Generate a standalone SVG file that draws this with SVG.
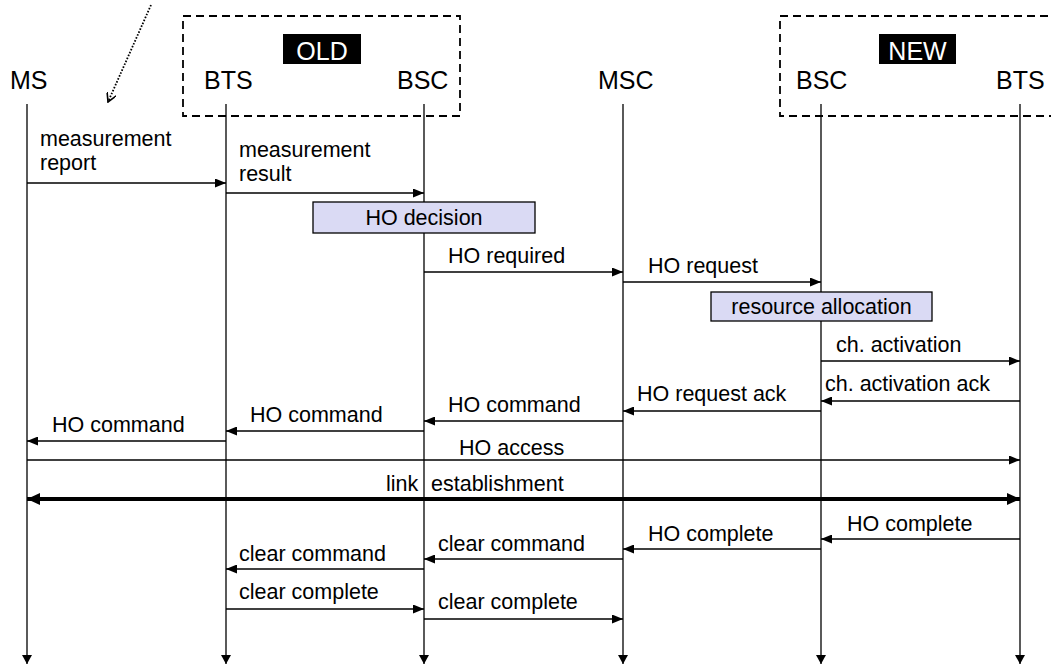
<svg xmlns="http://www.w3.org/2000/svg" width="1051" height="664" viewBox="0 0 1051 664">
  <style>
    .hdr { font-family: "Liberation Sans", Arial, sans-serif; font-size: 25px; fill: #000; }
    .tag { font-family: "Liberation Sans", Arial, sans-serif; font-size: 25px; fill: #fff; text-anchor: middle; }
    .lbl { font-family: "Liberation Sans", Arial, sans-serif; font-size: 21.5px; fill: #000; }
    .life { stroke: #000; stroke-width: 1.3; fill: none; marker-end: url(#down); }
    .msg { stroke: #000; stroke-width: 1.3; fill: none; marker-end: url(#ah); }
    .group { fill: none; stroke: #000; stroke-width: 1.8; stroke-dasharray: 8 5; }
    .proc { fill: #dadaf4; stroke: #000; stroke-width: 1.3; }
  </style>
  <defs>
    <marker id="ah" viewBox="0 0 11 9" refX="11" refY="4.5" markerWidth="11" markerHeight="9" markerUnits="userSpaceOnUse" orient="auto-start-reverse">
      <path d="M0,0 L11,4.5 L0,9 z" fill="#000"/>
    </marker>
    <marker id="down" viewBox="0 0 10 9" refX="5" refY="9" markerWidth="10" markerHeight="9" markerUnits="userSpaceOnUse" orient="0">
      <path d="M0,0 L10,0 L5,9 z" fill="#000"/>
    </marker>
    <marker id="thick" viewBox="0 0 13 12" refX="13" refY="6" markerWidth="13" markerHeight="12" markerUnits="userSpaceOnUse" orient="auto-start-reverse">
      <path d="M0,0 L13,6 L0,12 z" fill="#000"/>
    </marker>
    <marker id="open" viewBox="0 0 10 10" refX="9" refY="5" markerWidth="10" markerHeight="10" markerUnits="userSpaceOnUse" orient="auto">
      <path d="M0,0 L9,5 L0,10" fill="none" stroke="#000" stroke-width="1.6"/>
    </marker>
  </defs>

  <rect width="1051" height="664" fill="#fff"/>

  <!-- dashed groupings of the old and new network side -->
  <g id="old-side">
    <rect class="group" x="183" y="16" width="277" height="100"/>
    <rect x="283" y="34" width="78" height="30" fill="#000"/>
    <text class="tag" x="322" y="60">OLD</text>
  </g>
  <g id="new-side">
    <rect class="group" x="780" y="16" width="290" height="100"/>
    <rect x="879" y="34" width="77" height="30" fill="#000"/>
    <text class="tag" x="917.5" y="60">NEW</text>
  </g>

  <!-- entities with their lifelines -->
  <g id="ms">
    <text class="hdr" x="10" y="89">MS</text>
    <line class="life" x1="27" y1="104" x2="27" y2="664"/>
  </g>
  <g id="bts-old">
    <text class="hdr" x="204" y="89">BTS</text>
    <line class="life" x1="226" y1="104" x2="226" y2="664"/>
  </g>
  <g id="bsc-old">
    <text class="hdr" x="397" y="89">BSC</text>
    <line class="life" x1="424" y1="104" x2="424" y2="664"/>
  </g>
  <g id="msc">
    <text class="hdr" x="598" y="89">MSC</text>
    <line class="life" x1="623" y1="104" x2="623" y2="664"/>
  </g>
  <g id="bsc-new">
    <text class="hdr" x="796" y="89">BSC</text>
    <line class="life" x1="821" y1="104" x2="821" y2="664"/>
  </g>
  <g id="bts-new">
    <text class="hdr" x="996" y="89">BTS</text>
    <line class="life" x1="1020" y1="104" x2="1020" y2="664"/>
  </g>

  <!-- local processing steps -->
  <g id="ho-decision">
    <rect class="proc" x="313" y="202" width="222" height="31"/>
    <text class="lbl" x="424" y="225" text-anchor="middle">HO decision</text>
  </g>
  <g id="resource-allocation">
    <rect class="proc" x="711" y="292" width="221" height="29"/>
    <text class="lbl" x="821.5" y="314" text-anchor="middle">resource allocation</text>
  </g>

  <!-- messages -->
  <g id="connectors">
    <line x1="151" y1="5" x2="108" y2="102" stroke="#000" stroke-width="1.8" stroke-dasharray="1.6 1.6" marker-end="url(#open)"/>

    <text class="lbl" x="40" y="146">measurement</text>
    <text class="lbl" x="40" y="170">report</text>
    <line class="msg" x1="27" y1="183" x2="226" y2="183"/>

    <text class="lbl" x="239" y="157">measurement</text>
    <text class="lbl" x="239" y="181">result</text>
    <line class="msg" x1="226" y1="193" x2="424" y2="193"/>

    <text class="lbl" x="448" y="263">HO required</text>
    <line class="msg" x1="424" y1="272" x2="623" y2="272"/>

    <text class="lbl" x="648" y="273">HO request</text>
    <line class="msg" x1="623" y1="282" x2="821" y2="282"/>

    <text class="lbl" x="836" y="352">ch. activation</text>
    <line class="msg" x1="821" y1="361" x2="1020" y2="361"/>

    <text class="lbl" x="825" y="391">ch. activation ack</text>
    <line class="msg" x1="1020" y1="401" x2="821" y2="401"/>

    <text class="lbl" x="637" y="401">HO request ack</text>
    <line class="msg" x1="821" y1="411" x2="623" y2="411"/>

    <text class="lbl" x="448" y="412">HO command</text>
    <line class="msg" x1="623" y1="421" x2="424" y2="421"/>

    <text class="lbl" x="250" y="422">HO command</text>
    <line class="msg" x1="424" y1="431" x2="226" y2="431"/>

    <text class="lbl" x="52" y="432">HO command</text>
    <line class="msg" x1="226" y1="441" x2="27" y2="441"/>

    <text class="lbl" x="459" y="455">HO access</text>
    <line class="msg" x1="27" y1="460" x2="1020" y2="460"/>

    <text class="lbl" x="386" y="491">link<tspan x="431">establishment</tspan></text>
    <line x1="27" y1="499" x2="1020" y2="499" stroke="#000" stroke-width="4" marker-start="url(#thick)" marker-end="url(#thick)"/>

    <text class="lbl" x="847" y="531">HO complete</text>
    <line class="msg" x1="1020" y1="539" x2="821" y2="539"/>

    <text class="lbl" x="648" y="541">HO complete</text>
    <line class="msg" x1="821" y1="549" x2="623" y2="549"/>

    <text class="lbl" x="438" y="551">clear command</text>
    <line class="msg" x1="623" y1="559" x2="424" y2="559"/>

    <text class="lbl" x="239" y="561">clear command</text>
    <line class="msg" x1="424" y1="569" x2="226" y2="569"/>

    <text class="lbl" x="239" y="599">clear complete</text>
    <line class="msg" x1="226" y1="609" x2="424" y2="609"/>

    <text class="lbl" x="438" y="609">clear complete</text>
    <line class="msg" x1="424" y1="619" x2="623" y2="619"/>
  </g>
</svg>
